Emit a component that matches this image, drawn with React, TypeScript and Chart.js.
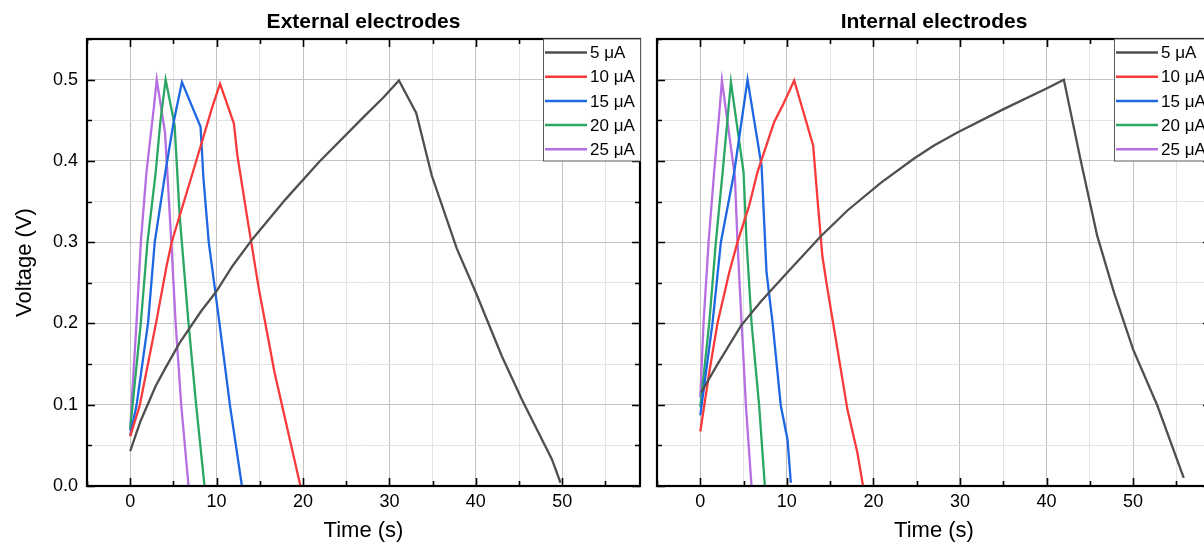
import React, { useEffect, useRef } from "react";
import { Chart, registerables } from "chart.js";

Chart.register(...registerables);

// ---------- data ----------
const seriesLabels = ["5 μA", "10 μA", "15 μA", "20 μA", "25 μA"];
const seriesColors = ["#4f4f4f", "#f93a3a", "#1e67e2", "#2aa764", "#b56fe2"];

// External electrodes
const ext5T = [0, 1.2, 2.95, 4.07, 5.72, 8.2, 9.94, 11.86, 14.16, 18, 21.8, 27.2, 29.3, 31.1, 33.1, 34.9, 37.8, 40, 43, 45.3, 48.8, 49.8];
const ext5V = [0.043, 0.08, 0.123, 0.145, 0.176, 0.215, 0.239, 0.271, 0.304, 0.353, 0.398, 0.456, 0.478, 0.499, 0.459, 0.382, 0.292, 0.238, 0.16, 0.107, 0.033, 0.004];
const ext10T = [0, 1.1, 3.0, 4.2, 4.8, 7.25, 9.55, 10.4, 12.0, 12.4, 13.5, 14.9, 16.7, 19.7];
const ext10V = [0.061, 0.099, 0.201, 0.27, 0.3, 0.386, 0.468, 0.495, 0.446, 0.407, 0.333, 0.242, 0.14, 0.0];
const ext15T = [0, 0.73, 2.07, 2.84, 4.07, 5.03, 5.99, 8.14, 8.48, 9.09, 10.32, 11.55, 12.93];
const ext15V = [0.0625, 0.099, 0.201, 0.3, 0.386, 0.448, 0.497, 0.442, 0.378, 0.3, 0.201, 0.099, 0.0];
const ext20T = [0, 0.27, 1.23, 2.0, 2.95, 3.49, 4.1, 5.14, 5.72, 6.75, 7.64, 8.6];
const ext20V = [0.07, 0.099, 0.201, 0.3, 0.386, 0.448, 0.5, 0.444, 0.333, 0.2, 0.099, 0.0];
const ext25T = [0, 0.15, 0.73, 1.23, 1.88, 2.76, 3.07, 4.03, 4.76, 5.26, 5.91, 6.75];
const ext25V = [0.068, 0.099, 0.201, 0.3, 0.386, 0.468, 0.5, 0.435, 0.3, 0.2, 0.099, 0.0];

// Internal electrodes
const int5T = [0.1, 2.0, 4.69, 7.0, 10.08, 13.9, 17.0, 20.85, 24.7, 27.0, 29.7, 35.1, 40, 42, 43.9, 45.85, 47.8, 50, 52.8, 55.85];
const int5V = [0.115, 0.15, 0.197, 0.227, 0.263, 0.307, 0.339, 0.373, 0.403, 0.419, 0.435, 0.464, 0.489, 0.5, 0.403, 0.308, 0.238, 0.168, 0.099, 0.01];
const int10T = [0, 1.04, 2.0, 3.35, 4.3, 5.65, 6.6, 8.54, 9.5, 10.85, 13.04, 13.54, 14.1, 14.7, 15.65, 17.0, 18.15, 18.8];
const int10V = [0.067, 0.14, 0.201, 0.263, 0.3, 0.345, 0.386, 0.448, 0.468, 0.499, 0.419, 0.353, 0.283, 0.242, 0.181, 0.094, 0.041, 0.0];
const int15T = [0, 1.42, 2.38, 3.92, 5.46, 7.08, 7.65, 8.35, 9.3, 10.08, 10.46];
const int15V = [0.087, 0.201, 0.3, 0.386, 0.5, 0.394, 0.263, 0.201, 0.099, 0.057, 0.004];
const int20T = [0, 1.04, 1.8, 2.58, 3.54, 5.0, 5.35, 5.92, 6.8, 7.46];
const int20V = [0.097, 0.201, 0.3, 0.386, 0.497, 0.386, 0.3, 0.201, 0.099, 0.0];
const int25T = [0, 0.38, 0.96, 1.6, 2.27, 2.5, 4.0, 4.3, 4.77, 5.27, 5.92];
const int25V = [0.109, 0.201, 0.3, 0.386, 0.468, 0.499, 0.38, 0.3, 0.201, 0.099, 0.0];

const panelTitles = ["External electrodes", "Internal electrodes"];
const xAxisTitle = "Time (s)";
const yAxisTitle = "Voltage (V)";

const X_MIN = -5;
const X_MAX = 59;
const X_STEP = 5;
const X_MAJOR = 10;
const Y_MIN = 0;
const Y_MAX = 0.55;
const Y_STEP = 0.05;

const FONT = "'Liberation Sans', Arial, Helvetica, sans-serif";

type Panel = {
  title: string;
  series: [number[], number[]][];
  canvasLeft: number;
  canvasWidth: number;
  areaLeft: number;
  areaRight: number;
  showYTitle: boolean;
  showYLabels: boolean;
};

const H = 544;
const AREA_TOP = 39;
const AREA_BOTTOM = 486;

const panels: Panel[] = [
  {
    title: panelTitles[0],
    series: [[ext5T, ext5V], [ext10T, ext10V], [ext15T, ext15V], [ext20T, ext20V], [ext25T, ext25V]],
    canvasLeft: 0,
    canvasWidth: 650,
    areaLeft: 87,
    areaRight: 640,
    showYTitle: true,
    showYLabels: true,
  },
  {
    title: panelTitles[1],
    series: [[int5T, int5V], [int10T, int10V], [int15T, int15V], [int20T, int20V], [int25T, int25V]],
    canvasLeft: 650,
    canvasWidth: 570,
    areaLeft: 7,
    areaRight: 561,
    showYTitle: false,
    showYLabels: false,
  },
];

const isMajorX = (v: number) => Math.abs(Math.round(v) % X_MAJOR) === 0 && Math.abs(v - Math.round(v)) < 1e-6;
const isMajorY = (v: number) => Math.round(v * 20) % 2 === 0;

function makeDecor(panel: Panel) {
  return {
    id: "decor",
    afterDraw(chart: any) {
      const { ctx, chartArea } = chart;
      const { left, right, top, bottom } = chartArea;
      const xs = chart.scales.x;
      const ys = chart.scales.y;
      ctx.save();
      // inward ticks
      ctx.strokeStyle = "#000";
      ctx.lineWidth = 1.6;
      ctx.beginPath();
      for (let v = X_MIN; v <= X_MAX + 1e-9; v += X_STEP) {
        const px = Math.round(xs.getPixelForValue(v)) + 0.5;
        const len = isMajorX(v) ? 8 : 5;
        ctx.moveTo(px, bottom);
        ctx.lineTo(px, bottom - len);
        ctx.moveTo(px, top);
        ctx.lineTo(px, top + len);
      }
      const ny = Math.round((Y_MAX - Y_MIN) / Y_STEP);
      for (let i = 0; i <= ny; i++) {
        const v = Y_MIN + i * Y_STEP;
        const py = Math.round(ys.getPixelForValue(v)) + 0.5;
        const len = i % 2 === 0 ? 8 : 5;
        ctx.moveTo(left, py);
        ctx.lineTo(left + len, py);
        ctx.moveTo(right, py);
        ctx.lineTo(right - len, py);
      }
      ctx.stroke();
      // frame
      ctx.lineWidth = 2.2;
      ctx.strokeRect(left, top, right - left, bottom - top);

      // legend
      const lw = 97;
      const lh = 122;
      const lx = right - lw;
      const ly = top;
      ctx.fillStyle = "#fff";
      ctx.fillRect(lx, ly, lw, lh);
      ctx.strokeStyle = "#5a5a5a";
      ctx.lineWidth = 1;
      ctx.strokeRect(Math.round(lx) + 0.5, ly, lw, lh);
      ctx.font = `17px ${FONT}`;
      ctx.textBaseline = "middle";
      ctx.textAlign = "left";
      seriesLabels.forEach((lab, i) => {
        const yy = ly + 13.5 + i * 24.2;
        ctx.strokeStyle = seriesColors[i];
        ctx.lineWidth = 2.5;
        ctx.beginPath();
        ctx.moveTo(lx + 2, yy);
        ctx.lineTo(lx + 44, yy);
        ctx.stroke();
        ctx.fillStyle = "#000";
        ctx.fillText(lab, lx + 47, yy + 1);
      });

      // title
      ctx.fillStyle = "#000";
      ctx.font = `bold 21px ${FONT}`;
      ctx.textAlign = "center";
      ctx.textBaseline = "middle";
      ctx.fillText(panel.title, (left + right) / 2, 22);

      // x title
      ctx.font = `22px ${FONT}`;
      ctx.fillText(xAxisTitle, (left + right) / 2, 531);

      // y title
      if (panel.showYTitle) {
        ctx.save();
        ctx.translate(25, (top + bottom) / 2);
        ctx.rotate(-Math.PI / 2);
        ctx.fillText(yAxisTitle, 0, 0);
        ctx.restore();
      }
      ctx.restore();
    },
  };
}

function PanelChart({ panel }: { panel: Panel }) {
  const ref = useRef<HTMLCanvasElement | null>(null);
  useEffect(() => {
    if (!ref.current) return;
    const datasets = panel.series.map(([T, V], i) => ({
      label: seriesLabels[i],
      data: T.map((t, k) => ({ x: t, y: V[k] })),
      borderColor: seriesColors[i],
      backgroundColor: seriesColors[i],
      borderWidth: 2.3,
      pointRadius: 0,
      tension: 0,
      fill: false,
    }));
    const chart = new Chart(ref.current, {
      type: "line",
      data: { datasets },
      options: {
        animation: false,
        responsive: false,
        maintainAspectRatio: false,
        devicePixelRatio: 1,
        layout: {
          padding: { left: 0, top: AREA_TOP, right: panel.canvasWidth - panel.areaRight, bottom: 0 },
        },
        plugins: { legend: { display: false }, tooltip: { enabled: false }, title: { display: false } },
        scales: {
          x: {
            type: "linear",
            min: X_MIN,
            max: X_MAX,
            afterFit: (s: any) => {
              s.height = H - AREA_BOTTOM;
            },
            ticks: {
              stepSize: X_STEP,
              autoSkip: false,
              maxRotation: 0,
              padding: 5,
              color: "#000",
              font: { family: FONT, size: 18 },
              callback: (v: any) => (isMajorX(Number(v)) && Number(v) >= 0 ? String(v) : ""),
            },
            grid: {
              drawTicks: false,
              color: (c: any) => (isMajorX(c.tick.value) ? "#c2c2c2" : "#e4e4e4"),
              lineWidth: 1,
            },
            border: { display: false },
          },
          y: {
            type: "linear",
            min: Y_MIN,
            max: Y_MAX,
            afterFit: (s: any) => {
              s.width = panel.areaLeft;
            },
            ticks: {
              display: panel.showYLabels,
              stepSize: Y_STEP,
              autoSkip: false,
              padding: 9,
              color: "#000",
              font: { family: FONT, size: 18 },
              callback: (v: any) => (isMajorY(Number(v)) ? Number(v).toFixed(1) : ""),
            },
            grid: {
              drawTicks: false,
              color: (c: any) => (isMajorY(c.tick.value) ? "#c2c2c2" : "#e4e4e4"),
              lineWidth: 1,
            },
            border: { display: false },
          },
        },
      },
      plugins: [makeDecor(panel)],
    });
    return () => chart.destroy();
  }, [panel]);
  return (
    <canvas
      ref={ref}
      width={panel.canvasWidth}
      height={H}
      style={{ position: "absolute", left: panel.canvasLeft, top: 0, width: panel.canvasWidth, height: H }}
    />
  );
}

export default function App() {
  return (
    <div
      style={{
        position: "fixed",
        left: 0,
        top: 0,
        width: 1204,
        height: H,
        overflow: "hidden",
        background: "#fff",
      }}
    >
      {panels.map((p, i) => (
        <PanelChart key={i} panel={p} />
      ))}
    </div>
  );
}
